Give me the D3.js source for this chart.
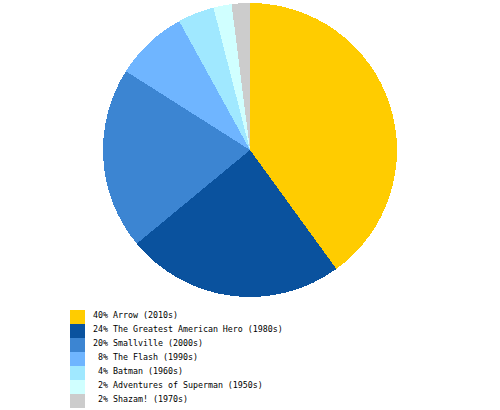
<!DOCTYPE html>
<html>
<head>
<meta charset="utf-8">
<script src="https://cdn.jsdelivr.net/npm/d3@7"></script>
<style>
  body { margin: 0; background: #fff; }
  svg { display: block; }
  .legend text { font-family: "DejaVu Sans Mono", monospace; font-size: 8.3px; fill: #000; white-space: pre; }
</style>
</head>
<body>
<div id="chart"></div>
<script>
// slice data, clockwise from 12 o'clock
var shows = ["Arrow (2010s)", "The Greatest American Hero (1980s)", "Smallville (2000s)",
             "The Flash (1990s)", "Batman (1960s)", "Adventures of Superman (1950s)", "Shazam! (1970s)"];
var shares = [40, 24, 20, 8, 4, 2, 2];
var colors = ["#ffcc00", "#0a529e", "#3c85d2", "#6fb5ff", "#a0e8ff", "#d0ffff", "#cccccc"];

var width = 500, height = 410;
var cx = 250, cy = 150, radius = 147;

var svg = d3.select("#chart").append("svg")
    .attr("width", width)
    .attr("height", height);

var pie = d3.pie().sort(null).value(function(d) { return d; });
var arc = d3.arc().innerRadius(0).outerRadius(radius);

var color = d3.scaleOrdinal().domain(shows).range(colors);

svg.append("g")
    .attr("transform", "translate(" + cx + "," + cy + ")")
  .selectAll("path")
    .data(pie(shares))
  .enter().append("path")
    .attr("d", arc)
    .attr("fill", function(d, i) { return color(shows[i]); })
    .attr("shape-rendering", "crispEdges");

// legend
var row = d3.scaleBand().domain(d3.range(shows.length)).range([310, 408]);

var legend = svg.append("g").attr("class", "legend")
  .selectAll("g")
    .data(shows)
  .enter().append("g")
    .attr("transform", function(d, i) { return "translate(0," + row(i) + ")"; });

legend.append("rect")
    .attr("x", 70)
    .attr("width", 15)
    .attr("height", row.bandwidth())
    .attr("fill", function(d) { return color(d); })
    .attr("shape-rendering", "crispEdges");

legend.append("text")
    .attr("x", 93)
    .attr("y", 7.5)
    .text(function(d, i) {
      var p = shares[i] + "%";
      return (p.length < 3 ? "\u00a0" + p : p) + " " + d;
    });
</script>
</body>
</html>
